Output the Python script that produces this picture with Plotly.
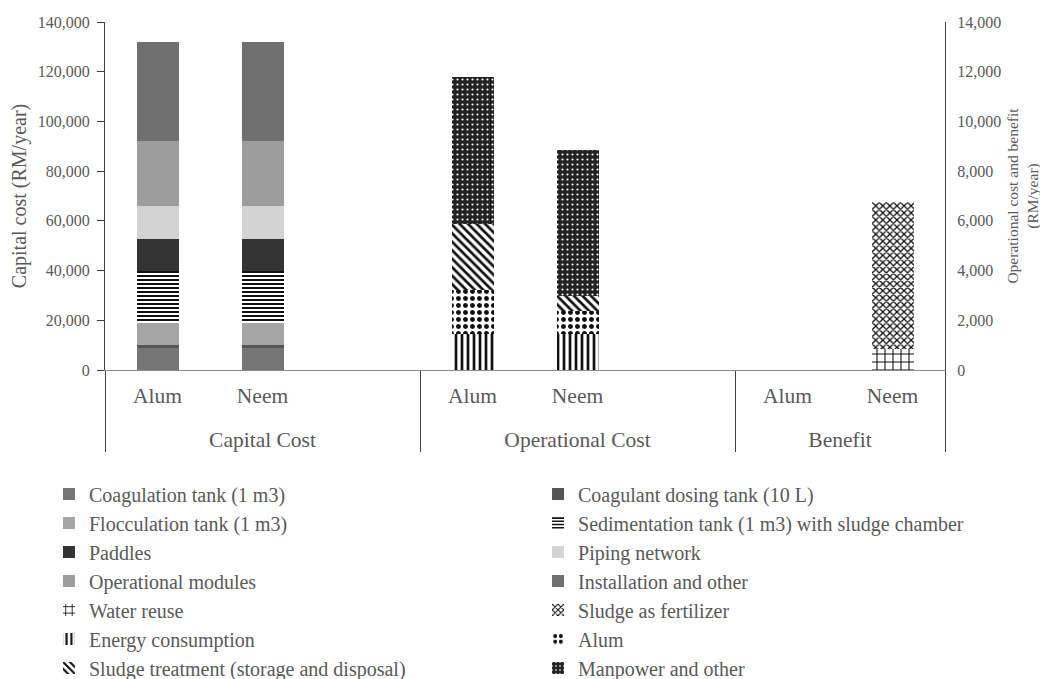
import plotly.graph_objects as go

# ---- categories ----
group_labels = ["Capital Cost", "Capital Cost", "Capital Cost",
                "Operational Cost", "Operational Cost", "Operational Cost",
                "Benefit", "Benefit"]
pad = "<br><span style='font-size:6px'> </span>"
coag_labels = ["Alum" + pad, "Neem" + pad, " ", "Alum" + pad, "Neem" + pad, " ",
               "Alum" + pad, "Neem" + pad]

coagulants = ["Alum" + pad, "Neem" + pad]

# ---- capital cost series (RM/year), left axis ----
coagulation_tank = [9200, 9200]
dosing_tank = [800, 800]
flocculation_tank = [9000, 9000]
sedimentation_tank = [21000, 21000]
paddles = [12600, 12600]
piping_network = [13400, 13400]
operational_modules = [26250, 26250]
installation_other = [39550, 39550]

# ---- operational cost series (RM/year), right axis ----
energy = [1450, 1450]
alum = [1770, 940]
sludge_treatment = [2640, 590]
manpower = [5915, 5870]

# ---- benefit series (RM/year), right axis ----
water_reuse = [None, 830]
sludge_fertilizer = [None, 5940]

FONT = "Liberation Serif"
TXT = "#595959"

fig = go.Figure()

# dummy trace registering all categories in order
fig.add_trace(go.Bar(x=[group_labels, coag_labels], y=[None] * len(coag_labels),
                     showlegend=False, hoverinfo="skip"))

def solid(color):
    return dict(color=color, line=dict(width=0))

def patt(shape, fg, bg, size, sol):
    return dict(color=bg, line=dict(width=0),
                pattern=dict(shape=shape, fgcolor=fg, bgcolor=bg,
                             size=size, solidity=sol, fillmode="replace"))

cap_x = [["Capital Cost"] * 2, coagulants]
op_x = [["Operational Cost"] * 2, coagulants]
ben_x = [["Benefit"] * 2, coagulants]

# (name, x, y, axis, marker, legend column)
traces = [
    ("Coagulation tank (1 m3)", cap_x, coagulation_tank, "y", solid("#757575"), "legend"),
    ("Coagulant dosing tank (10 L)", cap_x, dosing_tank, "y", solid("#555555"), "legend2"),
    ("Flocculation tank (1 m3)", cap_x, flocculation_tank, "y", solid("#a5a5a5"), "legend"),
    ("Sedimentation tank (1 m3) with sludge chamber", cap_x, sedimentation_tank, "y",
     patt("-", "#111111", "#ffffff", 4, 0.5), "legend2"),
    ("Paddles", cap_x, paddles, "y", solid("#333333"), "legend"),
    ("Piping network", cap_x, piping_network, "y", solid("#d3d3d3"), "legend2"),
    ("Operational modules", cap_x, operational_modules, "y", solid("#9d9d9d"), "legend"),
    ("Installation and other", cap_x, installation_other, "y", solid("#707070"), "legend2"),
    ("Water reuse", ben_x, water_reuse, "y2", patt("+", "#111111", "#ffffff", 8, 0.25), "legend"),
    ("Sludge as fertilizer", ben_x, sludge_fertilizer, "y2",
     patt("x", "#111111", "#ffffff", 5, 0.45), "legend2"),
    ("Energy consumption", op_x, energy, "y2", patt("|", "#111111", "#ffffff", 6, 0.45), "legend"),
    ("Alum", op_x, alum, "y2", patt(".", "#111111", "#ffffff", 7, 0.4), "legend2"),
    ("Sludge treatment (storage and disposal)", op_x, sludge_treatment, "y2",
     patt("\\", "#111111", "#ffffff", 6, 0.45), "legend"),
    ("Manpower and other", op_x, manpower, "y2", patt(".", "#ffffff", "#222222", 5, 0.15), "legend2"),
]

for name, x, y, ax, marker, leg in traces:
    fig.add_trace(go.Bar(name=name, x=x, y=y, yaxis=ax, marker=marker, legend=leg))

legend_common = dict(orientation="v", yanchor="top", xanchor="left",
                     font=dict(size=20, color=TXT, family=FONT),
                     traceorder="normal", itemwidth=30, bgcolor="rgba(0,0,0,0)")

# page body has an 8px margin: figure is 1040x671 so that it fills the 1048x679 window
fig.update_layout(
    width=1040, height=671,
    margin=dict(l=97, r=103, t=14, b=309, autoexpand=False),
    paper_bgcolor="white", plot_bgcolor="white",
    barmode="stack", bargap=0.6,
    font=dict(family=FONT, color=TXT, size=16),
    xaxis=dict(type="multicategory", showline=True, linecolor="#8c8c8c", linewidth=1,
               ticks="", ticklabelstandoff=6,
               showgrid=False, tickfont=dict(size=21.5),
               showdividers=True, dividercolor="#404040", dividerwidth=1),
    yaxis=dict(range=[0, 140000], dtick=20000, tickformat=",", showgrid=False,
               showline=True, linecolor="#404040", linewidth=1, ticks="outside",
               ticklen=7, tickcolor="#404040", zeroline=False, ticklabelstandoff=4,
               title=dict(text="Capital cost (RM/year)", font=dict(size=20), standoff=6),
               tickfont=dict(size=16)),
    yaxis2=dict(range=[0, 14000], dtick=2000, tickformat=",", showgrid=False,
                overlaying="y", side="right", showline=True, linecolor="#404040",
                linewidth=1, ticks="", zeroline=False, ticklabelstandoff=8,
                title=dict(text="Operational cost and benefit<br>(RM/year)",
                           font=dict(size=15.5), standoff=6),
                tickfont=dict(size=16)),
    legend=dict(x=-0.0667, y=-0.30, **legend_common),
    legend2=dict(x=0.5155, y=-0.30, **legend_common),
    showlegend=True,
)

fig.write_html("out.html")
